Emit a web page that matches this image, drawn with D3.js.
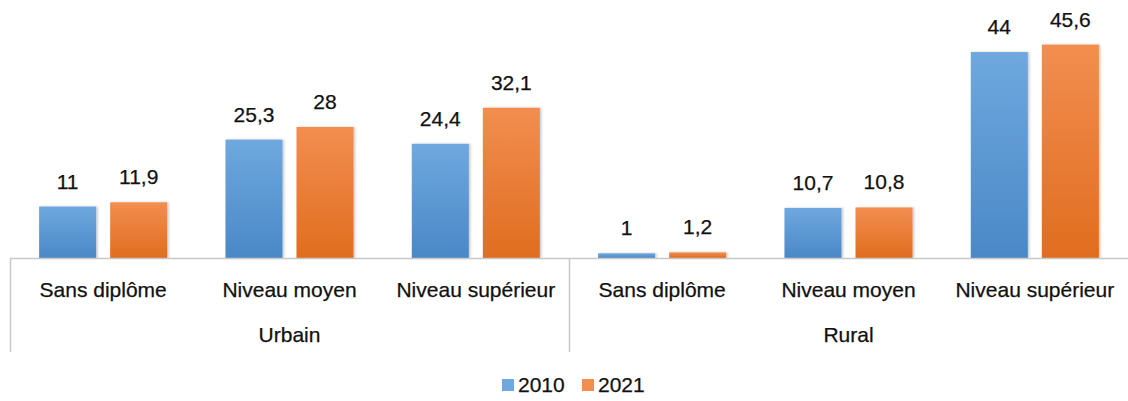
<!DOCTYPE html>
<html>
<head>
<meta charset="utf-8">
<script src="https://cdn.jsdelivr.net/npm/d3@7"></script>
<style>
  body { margin: 0; background: #fff; }
  svg text { font-family: "Liberation Sans", Arial, sans-serif; fill: #111; stroke: #111; stroke-width: 0.25px; }
</style>
</head>
<body>
<svg id="chart" width="1128" height="401"></svg>
<script>
// Data
const groups = ["Urbain", "Rural"];
const levels = ["Sans diplôme", "Niveau moyen", "Niveau supérieur"];
const years = ["2010", "2021"];
const values2010 = [11, 25.3, 24.4, 1, 10.7, 44];
const values2021 = [11.9, 28, 32.1, 1.2, 10.8, 45.6];

const colors = { "2010": ["#6ea8de", "#4a88c7"], "2021": ["#f28e50", "#e06d1f"] };

const svg = d3.select("#chart");
const left = 10, right = 1128, baseY = 258;

const cats = [];
groups.forEach((g, gi) => levels.forEach((l, li) => cats.push({ key: g + "|" + l, group: g, level: l, i: gi * levels.length + li })));

const x = d3.scaleBand().domain(cats.map(d => d.key)).range([left, right]).paddingInner(0).paddingOuter(0);
const xs = d3.scaleBand().domain(years).range([0, x.bandwidth()]).paddingInner(0.197).paddingOuter(0.41);
const y = d3.scaleLinear().domain([0, 50]).range([baseY, baseY - 234]);

// Gradients and soft shadow for the bars
const defs = svg.append("defs");
years.forEach(yr => {
  const g = defs.append("linearGradient").attr("id", "grad" + yr).attr("x1", 0).attr("y1", 0).attr("x2", 0).attr("y2", 1);
  g.append("stop").attr("offset", "0%").attr("stop-color", colors[yr][0]);
  g.append("stop").attr("offset", "100%").attr("stop-color", colors[yr][1]);
});
const f = defs.append("filter").attr("id", "shadow").attr("x", "-20%").attr("y", "-20%").attr("width", "140%").attr("height", "140%");
f.append("feDropShadow").attr("dx", 1.5).attr("dy", 0).attr("stdDeviation", 1.2).attr("flood-color", "#000").attr("flood-opacity", 0.22);

const series = { "2010": values2010, "2021": values2021 };

const gCat = svg.append("g").selectAll("g").data(cats).join("g")
  .attr("transform", d => `translate(${x(d.key)},0)`);

years.forEach(yr => {
  gCat.append("rect")
    .attr("x", xs(yr))
    .attr("width", xs.bandwidth())
    .attr("y", d => y(series[yr][d.i]))
    .attr("height", d => baseY - y(series[yr][d.i]))
    .attr("fill", `url(#grad${yr})`)
    .attr("filter", "url(#shadow)");
  gCat.append("text")
    .attr("x", xs(yr) + xs.bandwidth() / 2)
    .attr("y", d => y(series[yr][d.i]) - 18)
    .attr("text-anchor", "middle")
    .attr("font-size", 21)
    .text(d => String(series[yr][d.i]).replace(".", ","));
});

// Axis lines
const axisColor = "#c8c8c8";
svg.append("line").attr("x1", left).attr("x2", right).attr("y1", baseY + 0.5).attr("y2", baseY + 0.5)
  .attr("stroke", axisColor).attr("stroke-width", 1.5);
const dividers = [left, x(cats[3].key)];
svg.selectAll(".div").data(dividers).join("line")
  .attr("x1", d => d + 0.5).attr("x2", d => d + 0.5)
  .attr("y1", baseY).attr("y2", 352)
  .attr("stroke", axisColor).attr("stroke-width", 1.5);

// Category labels
svg.append("g").selectAll("text").data(cats).join("text")
  .attr("x", d => x(d.key) + x.bandwidth() / 2)
  .attr("y", 297)
  .attr("text-anchor", "middle")
  .attr("font-size", 21)
  .text(d => d.level);

// Group labels
svg.append("g").selectAll("text").data(groups).join("text")
  .attr("x", (g, gi) => x(cats[gi * 3 + 1].key) + x.bandwidth() / 2)
  .attr("y", 342)
  .attr("text-anchor", "middle")
  .attr("font-size", 21)
  .text(d => d);

// Legend
const legend = svg.append("g").attr("transform", "translate(502,379)");
const li = legend.selectAll("g").data(years).join("g").attr("transform", (d, i) => `translate(${i * 80},0)`);
li.append("rect").attr("x", 0).attr("y", 0).attr("width", 12).attr("height", 12).attr("fill", d => colors[d][0]);
li.append("text").attr("x", 16).attr("y", 13).attr("font-size", 21).text(d => d);
</script>
</body>
</html>
